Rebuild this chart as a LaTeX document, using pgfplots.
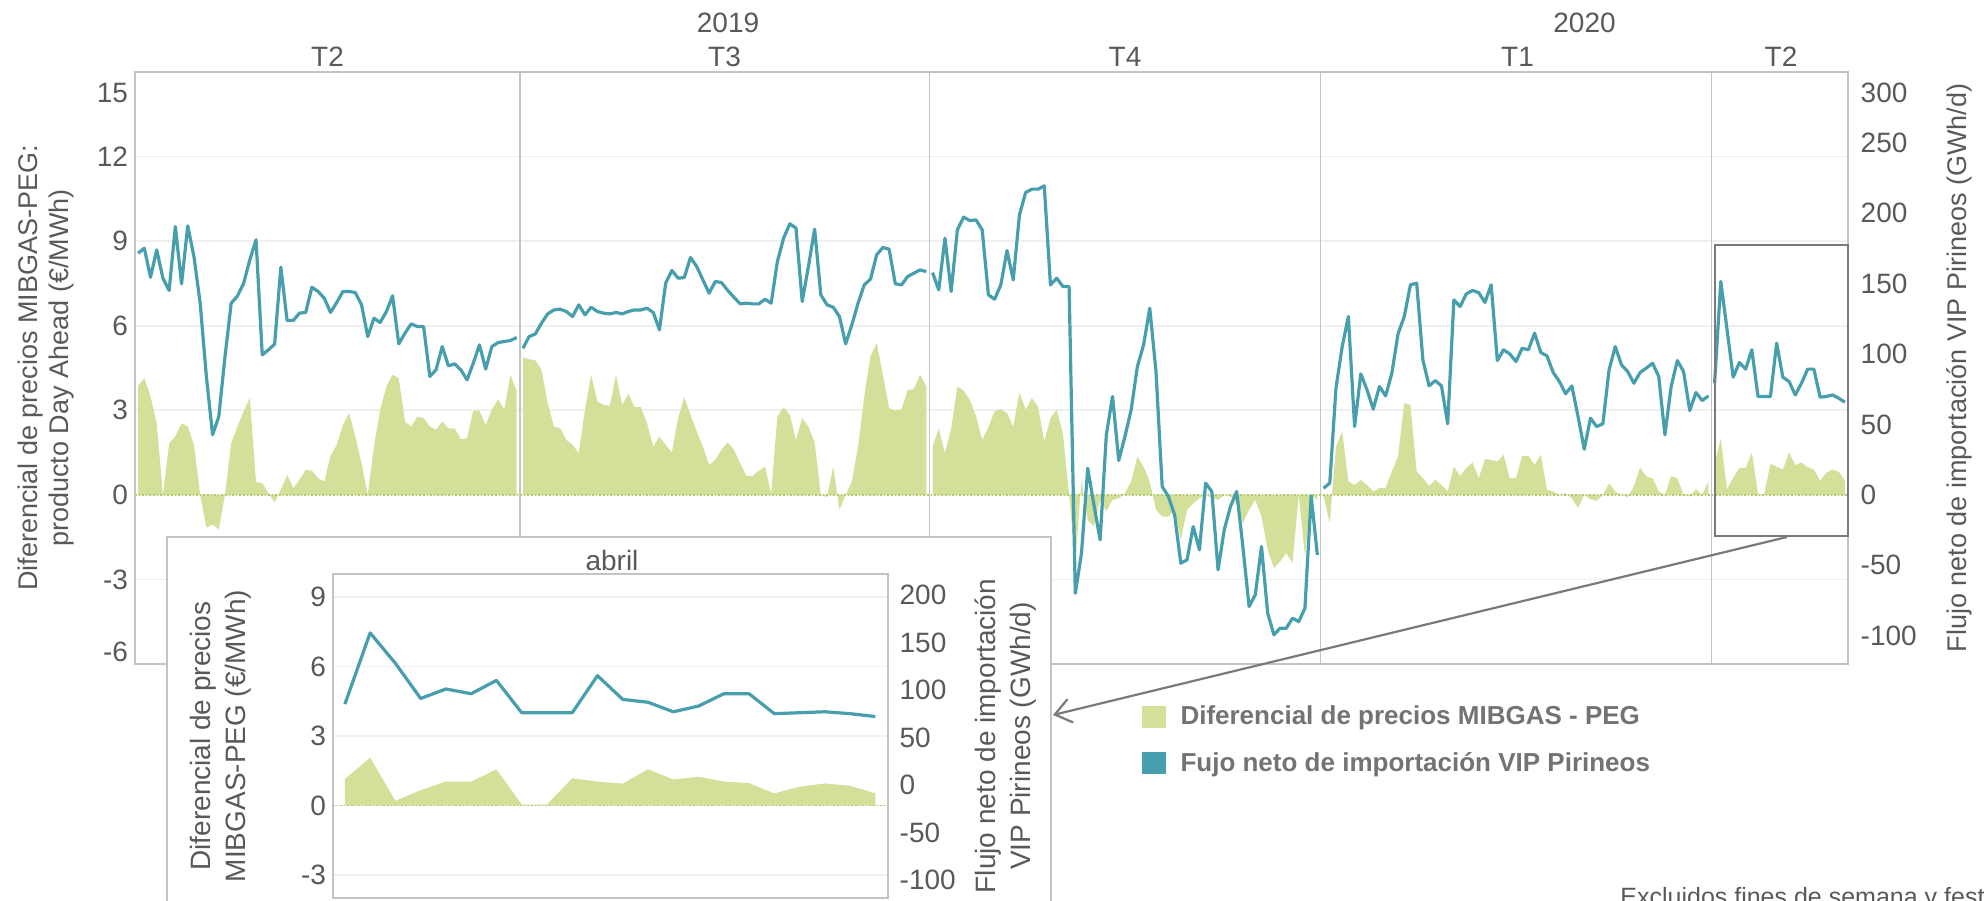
\documentclass[border=0pt]{standalone}
\usepackage{fontspec}
\setmainfont{Liberation Sans}
\usepackage{pgfplots}
\pgfplotsset{compat=1.18}
\usepackage{pgfplotstable}
\usetikzlibrary{arrows.meta}

\definecolor{verde}{HTML}{D2E09A}
\definecolor{verdecero}{HTML}{B5CA6A}
\definecolor{azul}{HTML}{479EAD}
\definecolor{texto}{HTML}{595959}
\definecolor{leyenda}{HTML}{737373}
\definecolor{marco}{HTML}{C4C4C4}
\definecolor{rejilla}{HTML}{F0F0F0}
\definecolor{caja}{HTML}{7A7A7A}

\newcommand{\tf}{\fontsize{14}{16.8}\selectfont}

% x = dia habil (indice), dif = diferencial (EUR/MWh), flu = flujo (GWh/d)
\pgfplotstableread{
x dif flu
0 3.87 171.4
1 4.14 175.0
2 3.49 154.4
3 2.54 173.8
4 0.00 153.7
5 1.83 145.0
6 2.07 190.4
7 2.54 149.7
8 2.42 190.8
9 1.77 169.0
10 0.00 136.0
11 -1.15 84.0
12 -1.06 42.6
13 -1.22 55.6
14 0.00 98.0
15 1.83 136.0
16 2.42 141.0
17 2.96 150.0
18 3.43 166.7
19 0.47 181.0
20 0.41 99.3
21 0.06 102.9
22 -0.27 107.0
23 0.18 161.5
24 0.71 123.7
25 0.24 123.7
26 0.53 128.9
27 0.89 129.4
28 0.86 147.3
29 0.59 144.3
30 0.47 139.5
31 1.38 129.4
32 1.77 136.5
33 2.48 144.3
34 2.90 144.3
35 2.07 143.5
36 1.12 134.8
37 0.00 112.3
38 1.71 125.3
39 3.02 122.3
40 3.84 130.0
41 4.26 141.2
42 4.14 107.1
43 2.60 114.7
44 2.42 121.3
45 2.78 119.4
46 2.72 119.4
47 2.42 84.0
48 2.31 88.7
49 2.60 105.2
50 2.36 91.5
51 2.36 92.9
52 1.97 88.7
53 2.01 81.6
54 2.99 93.4
55 2.99 106.4
56 2.48 89.2
57 3.02 105.2
58 3.39 108.0
59 3.02 108.8
60 4.26 109.5
61 3.67 111.6
}\Ta

\pgfplotstableread{
x dif flu
62 4.88 104.0
63 4.81 112.3
64 4.77 114.2
65 4.43 121.8
66 3.25 128.4
67 2.42 131.2
68 2.36 131.7
69 1.95 130.1
70 1.77 126.5
71 1.48 134.8
72 3.02 127.7
73 4.26 133.1
74 3.31 130.1
75 3.19 128.9
76 3.16 128.4
77 4.26 129.4
78 3.19 128.4
79 3.58 130.1
80 3.11 131.2
81 3.11 131.2
82 2.54 132.4
83 1.71 129.4
84 2.07 117.1
85 1.77 150.2
86 1.50 159.2
87 2.72 153.7
88 3.46 154.2
89 2.84 168.4
90 2.25 162.0
91 1.71 152.5
92 1.06 143.1
93 1.24 151.4
94 1.60 150.6
95 1.86 145.0
96 1.60 140.2
97 1.12 135.5
98 0.67 136.0
99 0.67 135.5
100 0.86 135.5
101 1.00 138.8
102 0.06 136.0
103 2.78 165.5
104 3.11 182.1
105 2.84 192.3
106 1.95 189.2
107 2.72 137.2
108 2.42 162.0
109 1.86 188.5
110 0.00 141.9
111 -0.08 134.8
112 1.00 133.1
113 -0.53 126.5
114 0.00 107.1
115 0.47 120.6
116 1.71 136.0
117 3.49 149.0
118 4.93 153.0
119 5.38 170.3
120 4.26 175.5
121 3.07 174.3
122 2.99 149.7
123 3.04 149.0
124 3.72 154.9
125 3.75 157.3
126 4.26 159.6
127 3.84 158.4
}\Tb

\pgfplotstableread{
x dif flu
128 1.71 157.7
129 2.36 145.4
130 1.48 182.1
131 2.36 144.3
132 3.84 188.0
133 3.70 197.0
134 3.37 194.6
135 2.80 195.1
136 1.95 188.0
137 2.40 141.9
138 2.96 138.8
139 3.04 149.0
140 2.90 173.3
141 2.42 152.5
142 3.63 198.6
143 3.02 214.5
144 3.43 216.9
145 3.13 216.9
146 1.89 219.2
147 2.72 149.0
148 3.02 153.7
149 2.19 147.8
150 0.00 147.8
151 -2.42 -69.8
152 0.53 -41.4
153 -0.89 18.9
154 -1.12 -7.1
155 -0.18 -31.9
156 -0.59 42.6
157 -0.18 69.8
158 -0.12 24.4
159 0.06 41.4
160 0.47 60.3
161 1.36 91.0
162 1.00 106.4
163 0.47 132.4
164 -0.53 87.5
165 -0.77 5.9
166 -0.77 -1.2
167 -0.53 -14.2
168 -1.60 -48.5
169 -0.53 -46.1
170 -0.30 -22.5
171 -0.12 -39.0
172 0.00 8.3
173 -0.12 2.4
174 -0.18 -53.2
175 0.00 -24.8
176 -0.06 -8.3
177 -0.30 2.4
178 -1.00 -36.7
179 -0.53 -79.2
180 -0.18 -70.9
181 -0.77 -36.7
182 -1.95 -84.0
183 -2.60 -99.3
184 -2.36 -94.6
185 -2.07 -94.6
186 -2.42 -87.5
187 0.00 -89.9
188 -2.19 -80.4
189 0.00 -0.7
190 -0.18 -42.6
}\Tc

\pgfplotstableread{
x dif flu
191 -0.06 4.7
192 -1.00 8.3
193 1.71 75.7
194 2.25 105.2
195 0.47 126.5
196 0.35 48.5
197 0.53 85.8
198 0.35 74.5
199 0.12 60.8
200 0.24 76.9
201 0.24 70.2
202 0.83 86.3
203 1.36 114.2
204 3.25 126.5
205 3.19 149.0
206 0.83 150.2
207 0.59 95.8
208 0.32 77.3
209 0.53 81.1
210 0.35 77.3
211 0.12 50.4
212 1.00 138.3
213 0.67 133.6
214 0.95 142.6
215 1.15 145.0
216 0.59 143.5
217 1.27 136.5
218 1.24 149.0
219 1.18 95.3
220 1.42 102.9
221 0.59 100.0
222 0.59 94.6
223 1.38 104.0
224 1.38 102.9
225 1.06 114.7
226 1.42 101.0
227 0.18 98.6
228 0.12 86.8
229 0.00 80.4
230 0.06 71.7
231 -0.12 77.3
232 -0.47 55.6
233 0.00 32.4
234 -0.15 54.4
235 -0.21 48.5
236 0.00 50.4
237 0.41 88.7
238 0.12 105.2
239 0.00 92.2
240 -0.08 87.5
241 0.30 79.2
242 0.97 86.8
243 0.65 89.9
244 0.59 93.4
245 0.12 84.0
246 0.00 42.6
247 0.67 76.9
248 0.59 95.3
249 0.00 87.5
250 -0.06 59.8
251 0.20 72.6
252 0.00 66.9
253 0.47 70.2
}\Td

\pgfplotstableread{
x dif flu
254 1.10 79.2
255 2.00 151.4
256 0.20 117.5
257 0.60 83.5
258 0.95 93.9
259 0.95 89.2
260 1.50 102.9
261 0.03 69.8
262 0.03 69.8
263 1.10 69.8
264 1.00 107.6
265 0.90 83.5
266 1.50 80.4
267 1.05 70.9
268 1.15 79.2
269 0.98 89.2
270 0.90 89.2
271 0.50 69.3
272 0.78 69.8
273 0.90 70.9
274 0.82 68.6
275 0.50 65.7
}\Te

% abril 2020 (detalle)
\pgfplotstableread{
x dif flu
0 1.14 85
1 2.06 160
2 0.20 128
3 0.66 91
4 1.03 101
5 1.03 96
6 1.56 110
7 0.04 76
8 0.04 76
9 1.17 76
10 1.03 115
11 0.94 90
12 1.56 87
13 1.12 77
14 1.24 83
15 1.03 96
16 0.96 96
17 0.52 75
18 0.81 76
19 0.95 77
20 0.85 75
21 0.52 72
}\Tin

\pgfplotsset{
  comun/.style={
    scale only axis, xtick=\empty,
    tick style={draw=none},
    every tick label/.append style={font=\tf, text=texto},
  },
  principal/.style={comun,
    at={(67.5pt,118pt)}, anchor=south west,
    width=856.5pt, height=296pt,
    xmin=-0.5, xmax=275.5,
  },
  detalle/.style={comun,
    at={(166.5pt,1pt)}, anchor=south west,
    width=277.5pt, height=162pt,
    xmin=-0.47, xmax=21.5,
  },
  linea/.style={azul, line width=1.6pt, line join=round},
  area/.style={fill=verde, draw=none},
}

\begin{document}
\begin{tikzpicture}
\useasboundingbox (0,0) rectangle (992pt,450pt);

% ---- grafico principal, eje izquierdo
\begin{axis}[principal,
  ymin=-6, ymax=15,
  ytick={-3,0,3,6,9,12}, yticklabels={-3,0,3,6,9,12},
  extra y ticks={-5.57,14.25}, extra y tick labels={-6,15},
  extra y tick style={grid=none},
  ymajorgrids, major grid style={rejilla, line width=0.8pt},
  axis line style={marco, line width=1pt},
  ylabel={Diferencial de precios MIBGAS-PEG:\\producto Day Ahead (€/MWh)},
  ylabel style={align=center, font=\fontsize{13.5}{15.5}\selectfont, text=texto,
    at={(rel axis cs:-0.0517,0.5)}, anchor=center},
]
\foreach \d in {61.5,127.5,190.5,253.5}{
  \edef\tmp{\noexpand\draw[marco, line width=0.8pt] (axis cs:\d,-6) -- (axis cs:\d,15);}\tmp
}
\addplot[area] table[x=x,y=dif]{\Ta} \closedcycle;
\addplot[area] table[x=x,y=dif]{\Tb} \closedcycle;
\addplot[area] table[x=x,y=dif]{\Tc} \closedcycle;
\addplot[area] table[x=x,y=dif]{\Td} \closedcycle;
\addplot[area] table[x=x,y=dif]{\Te} \closedcycle;
\draw[verdecero, densely dotted, line width=0.8pt] (axis cs:-0.5,0) -- (axis cs:275.5,0);
\end{axis}

% ---- grafico principal, eje derecho
\begin{axis}[principal,
  ymin=-120, ymax=300,
  axis x line=none, axis y line*=right,
  y axis line style={draw=none},
  ytick={-100,-50,0,50,100,150,200,250},
  yticklabels={-100,-50,0,50,100,150,200,250},
  extra y ticks={285}, extra y tick labels={300},
  yticklabel style={xshift=2.8pt},
  ylabel={Flujo neto de importación VIP Pirineos (GWh/d)},
  ylabel style={font=\fontsize{13.5}{15.5}\selectfont, text=texto,
    at={(rel axis cs:1.0648,0.5)}, anchor=center},
  legend style={draw=none, fill=none, at={(0.5879,-0.0635)}, anchor=north west,
    inner sep=0pt, outer sep=0pt, row sep=8.4pt,
    font=\fontsize{13}{15.6}\selectfont\bfseries, text=leyenda},
  legend cell align=left,
]
\addplot[linea, forget plot] table[x=x,y=flu]{\Ta};
\addplot[linea, forget plot] table[x=x,y=flu]{\Tb};
\addplot[linea, forget plot] table[x=x,y=flu]{\Tc};
\addplot[linea, forget plot] table[x=x,y=flu]{\Td};
\addplot[linea, forget plot] table[x=x,y=flu]{\Te};
\addlegendimage{legend image code/.code={\fill[verde] (0pt,-5.25pt) rectangle (11.5pt,5.25pt); \path (16.8pt,0pt);}}
\addlegendentry{Diferencial de precios MIBGAS - PEG}
\addlegendimage{legend image code/.code={\fill[azul] (0pt,-5.25pt) rectangle (11.5pt,5.25pt); \path (16.8pt,0pt);}}
\addlegendentry{Fujo neto de importación VIP Pirineos}
\end{axis}

% trimestres y años
\begin{scope}[every node/.style={font=\tf, text=texto}]
\node at (163.75pt,421.5pt) {T2};
\node at (362.25pt,421.5pt) {T3};
\node at (562.5pt,421.5pt) {T4};
\node at (758.75pt,421.5pt) {T1};
\node at (890.5pt,421.5pt) {T2};
\node at (364pt,438.5pt) {2019};
\node at (792.25pt,438.5pt) {2020};
\end{scope}

% recuadro de detalle y flecha
\draw[caja, line width=1pt] (857.5pt,327.5pt) rectangle (924pt,182pt);
\draw[caja, line width=1.1pt, -{Straight Barb[length=8pt,width=12pt]}] (893.5pt,181.5pt) -- (526.5pt,92.5pt);

% ---- detalle abril
\draw[marco, line width=1.4pt, fill=white] (83.5pt,-5pt) rectangle (525.5pt,181.5pt);
\node[font=\tf, text=texto] at (306pt,170pt) {abril};

\begin{axis}[detalle,
  ymin=-4, ymax=10,
  ytick={-3,0,3,6,9}, yticklabels={-3,0,3,6,9},
  ymajorgrids, major grid style={rejilla, line width=0.8pt},
  axis line style={marco, line width=0.8pt},
  ylabel={Diferencial de precios\\MIBGAS-PEG (€/MWh)},
  ylabel style={align=center, font=\fontsize{14}{17.5}\selectfont, text=texto,
    at={(rel axis cs:-0.2027,0.5)}, anchor=center},
]
\addplot[area] table[x=x,y=dif]{\Tin} \closedcycle;
\draw[verdecero, densely dotted, line width=0.8pt] (axis cs:-0.47,0) -- (axis cs:21.5,0);
\end{axis}

\begin{axis}[detalle,
  ymin=-119, ymax=222,
  axis x line=none, axis y line*=right,
  y axis line style={draw=none},
  ytick={-100,-50,0,50,100,150,200},
  yticklabels={-100,-50,0,50,100,150,200},
  yticklabel style={xshift=2.3pt},
  ylabel={Flujo neto de importación\\VIP Pirineos (GWh/d)},
  ylabel style={align=center, font=\fontsize{14}{17.5}\selectfont, text=texto,
    at={(rel axis cs:1.2126,0.5)}, anchor=center},
]
\addplot[linea] table[x=x,y=flu]{\Tin};
\end{axis}

\node[font=\fontsize{12.5}{15}\selectfont, text=texto, anchor=base west, inner sep=0pt]
  at (810pt,-2.85pt) {Excluidos fines de semana y festivos};
\end{tikzpicture}
\end{document}
